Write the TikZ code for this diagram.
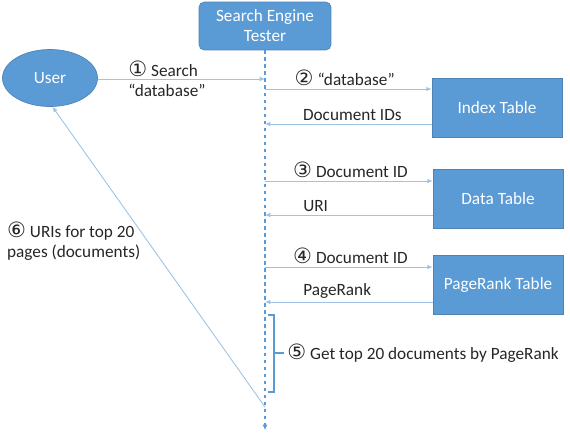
\documentclass[tikz,border=0pt]{standalone}
\usepackage{fontspec}
\setmainfont{Carlito}
\newfontfamily\circfont{DejaVu Sans}
\usetikzlibrary{arrows.meta,shapes.geometric}
\definecolor{boxblue}{RGB}{91,155,213}
\definecolor{lineblue}{RGB}{157,195,230}
\newcommand{\cnum}[1]{{\circfont\fontsize{12}{11}\selectfont #1}}

\begin{document}
\begin{tikzpicture}[x=0.02cm, y=-0.02cm,
    every node/.style={font=\fontsize{9.8}{11.3}\selectfont, text=black!85},
    actor/.style={ellipse, fill=boxblue, draw=boxblue!85!black, text=white, minimum width=1.9cm, minimum height=1.14cm},
    tester/.style={rectangle, rounded corners=3pt, fill=boxblue, draw=boxblue!85!black, text=white, minimum width=2.64cm, minimum height=0.96cm, align=center},
    tbl/.style={rectangle, fill=boxblue, draw=boxblue!85!black, text=white, minimum width=2.6cm, minimum height=1.18cm},
    msg/.style={-{Latex[length=3pt,width=2.6pt]}, draw=lineblue, line width=0.5pt},
    lifeline/.style={-{Latex[length=3pt,width=3pt]}, draw=boxblue, line width=1.2pt, dash pattern=on 2pt off 2pt},
    bracket/.style={draw=boxblue, line width=0.9pt},
    lbl/.style={anchor=south west, inner sep=1.5pt}
]
\useasboundingbox (0,0) rectangle (570,433);

% Participants
\node[actor] (user) at (50,78) {User};
\node[tester] (tester) at (265,26) {Search Engine\\Tester};
\node[tbl] (index) at (497,108) {Index Table};
\node[tbl] (data) at (498,199) {Data Table};
\node[tbl] (pagerank) at (498,285) {PageRank Table};

% Lifeline
\coordinate (lifeend) at (265,430);
\draw[lifeline] (tester.south) -- (lifeend);

% Points on the lifeline
\coordinate (l1) at (265,79);
\coordinate (l2) at (265,89);
\coordinate (r2) at (265,124);
\coordinate (l3) at (265,181);
\coordinate (r3) at (265,215);
\coordinate (l4) at (265,267);
\coordinate (r4) at (265,302);
\coordinate (l6) at (265,407);

% Messages
\draw[msg] (user.east |- l1) -- node[pos=0.18, anchor=west, align=left, inner sep=0pt] {\cnum{①} Search\\``database''} (l1);
\draw[msg] (l2) -- node[lbl, pos=0.16] {\cnum{②} ``database''} (l2 -| index.west);
\draw[msg] (r2 -| index.west) -- node[lbl, pos=0.79] {Document IDs} (r2);
\draw[msg] (l3) -- node[lbl, pos=0.15] {\cnum{③} Document ID} (l3 -| data.west);
\draw[msg] (r3 -| data.west) -- node[lbl, pos=0.79] {URI} (r3);
\draw[msg] (l4) -- node[lbl, pos=0.15] {\cnum{④} Document ID} (l4 -| pagerank.west);
\draw[msg] (r4 -| pagerank.west) -- node[lbl, pos=0.79] {PageRank} (r4);

% Sorting step
\coordinate (b5top) at (268,315);
\coordinate (b5bot) at (268,392);
\coordinate (b5mid) at (274,353);
\draw[bracket] (b5top) -- ++(6,0) -- (274,392) -- (b5bot);
\draw[bracket] (b5mid) -- ++(10,0) node[anchor=west, inner sep=1.5pt] {\cnum{⑤} Get top 20 documents by PageRank};

% Result
\draw[msg] (l6) -- node[pos=0.552, left, align=left, inner sep=4pt] {\cnum{⑥} URIs for top 20\\pages (documents)} (user.-85);

\end{tikzpicture}
\end{document}
